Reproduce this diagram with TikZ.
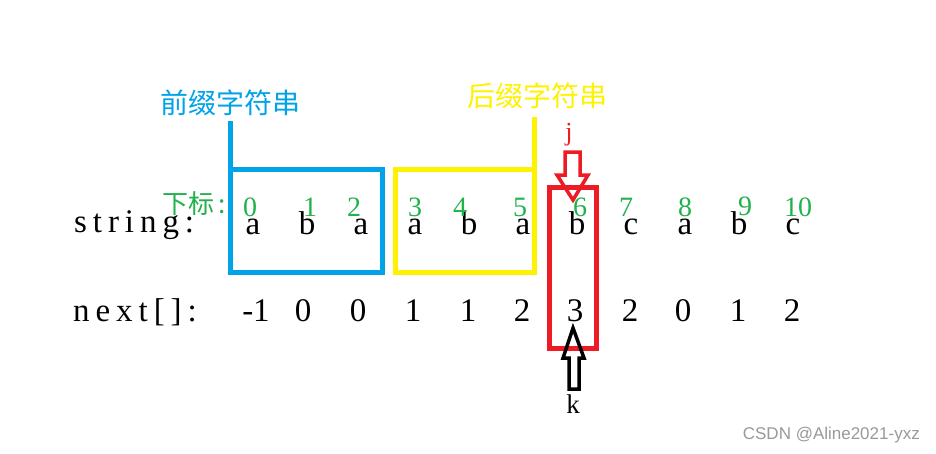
\documentclass[tikz,border=0pt]{standalone}
\usepackage{fontspec}
\setmainfont{Liberation Serif}
\newfontfamily\cjk{Noto Sans CJK SC}
\newfontfamily\wmfont{Liberation Sans}
\definecolor{paintblue}{RGB}{0,162,232}
\definecolor{paintyellow}{RGB}{255,242,0}
\definecolor{paintred}{RGB}{237,28,36}
\definecolor{paintgreen}{RGB}{34,177,76}
\tikzset{
  chr/.style={inner sep=0pt,anchor=base,font=\fontsize{33}{33}\selectfont},
  idx/.style={inner sep=0pt,anchor=base,text=paintgreen,font=\fontsize{28}{28}\selectfont},
  title/.style={inner sep=0pt,font=\cjk\fontsize{28}{28}\selectfont},
  box/.style={line width=5pt},
  hollow/.style={line width=3.5pt,line join=miter}
}
\begin{document}
\begin{tikzpicture}[x=1pt,y=-1pt]
\useasboundingbox[fill=white] (0,0) rectangle (936,453);
% labels of the two parts
\node[title,text=paintblue] (pre) at (230,103) {前缀字符串};
\node[title,text=paintyellow] (suf) at (537,96) {后缀字符串};
% row titles
\node[chr,anchor=base west,font=\fontsize{33}{33}\selectfont\addfontfeature{LetterSpace=18}] (str) at (74,232) {string:};
\node[chr,anchor=base west,font=\fontsize{33}{33}\selectfont\addfontfeature{LetterSpace=18}] (nxt) at (73,321) {next[]:};
\node[idx,anchor=base west,font=\cjk\fontsize{26}{26}\selectfont] (sub) at (162,213) {下标\,:};
% the string and its indices
\foreach \c [count=\i from 0] in {a,b,a,a,b,a,b,c,a,b,c}
  \node[chr] (s\i) at (253+54*\i,234) {\c};
\foreach \n/\x/\y in {0/250/216,1/310/216,2/354/216,3/415/216,4/460/216,5/520/216,6/580/216,7/626/216,8/685/216,9/745/215,10/798/216}
  \node[idx] (i\n) at (\x,\y) {\n};
% the next array
\node[chr] (n0) at (256,321) {-1};
\foreach \v/\x [count=\i] in {0/303,0/358,1/413,1/468,2/522,3/575,2/630,0/683,1/738,2/792}
  \node[chr] (n\i) at (\x,321) {\v};
% boxes
\draw[box,paintblue] (230,121) -- (230,272) -- (382,272) -- (382,169) -- (230,169);
\draw[box,paintyellow] (534,117) -- (534,272) -- (395,272) -- (395,169) -- (534,169);
\draw[box,paintred] (549,187) rectangle (596,348);
% j and k
\node[inner sep=0pt,anchor=base,text=paintred,font=\fontsize{26}{26}\selectfont] (j) at (569,140) {j};
\draw[hollow,paintred] (565,152) -- (580,152) -- (580,175) -- (588,175) -- (573,200)
  -- (557,175) -- (565,175) -- cycle;
\draw[hollow,black] (569,389) -- (579,389) -- (579,358) -- (584,358) -- (573,328)
  -- (563,358) -- (569,358) -- cycle;
\node[inner sep=0pt,anchor=base,font=\fontsize{27}{27}\selectfont] (k) at (573,413) {k};
% watermark
\node[inner sep=0pt,anchor=base east,text=gray!80,font=\wmfont\fontsize{17}{17}\selectfont] (wm) at (920,439) {CSDN @Aline2021-yxz};
\end{tikzpicture}
\end{document}
